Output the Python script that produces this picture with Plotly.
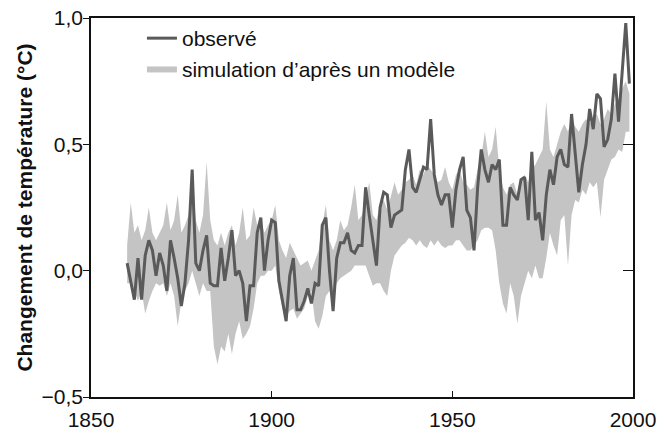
import plotly.graph_objects as go

years = list(range(1860, 2000))

observed = [
    0.03, -0.05, -0.115, 0.05, -0.115, 0.06, 0.12, 0.08, -0.02, 0.07,
    0.02, -0.08, 0.12, 0.05, -0.03, -0.14, -0.05, 0.12, 0.40, 0.03,
    0.00, 0.08, 0.14, -0.05, -0.06, -0.06, 0.09, -0.04, 0.05, 0.16,
    -0.02, 0.00, -0.05, -0.20, -0.06, -0.06, 0.15, 0.21, 0.00, 0.12,
    0.20, 0.19, -0.04, -0.12, -0.20, -0.02, 0.05, -0.155, -0.155, -0.12,
    -0.07, -0.13, -0.05, -0.06, 0.18, 0.21, 0.00, -0.16, 0.05, 0.11,
    0.11, 0.15, 0.08, 0.07, 0.10, 0.10, 0.33, 0.22, 0.12, 0.02,
    0.25, 0.31, 0.30, 0.17, 0.22, 0.23, 0.24, 0.40, 0.48, 0.33,
    0.31, 0.36, 0.41, 0.40, 0.60, 0.38, 0.30, 0.26, 0.30, 0.30,
    0.17, 0.32, 0.40, 0.45, 0.24, 0.21, 0.08, 0.33, 0.48, 0.40,
    0.35, 0.42, 0.40, 0.44, 0.18, 0.18, 0.33, 0.30, 0.28, 0.36,
    0.37, 0.20, 0.47, 0.20, 0.23, 0.12, 0.30, 0.40, 0.34, 0.45,
    0.48, 0.42, 0.41, 0.62, 0.45, 0.31, 0.42, 0.50, 0.64, 0.56,
    0.70, 0.68, 0.49, 0.52, 0.60, 0.78, 0.59, 0.80, 0.98, 0.74,
]

model_upper = [
    0.10, 0.27, 0.15, 0.18, 0.12, 0.16, 0.25, 0.15, 0.12, 0.15,
    0.18, 0.27, 0.16, 0.20, 0.30, 0.15, 0.18, 0.22, 0.35, 0.20,
    0.15, 0.22, 0.43, 0.20, 0.12, 0.10, 0.15, 0.10, 0.15, 0.18,
    0.10, 0.15, 0.25, 0.12, 0.14, 0.25, 0.18, 0.20, 0.15, 0.18,
    0.20, 0.26, 0.12, 0.08, 0.05, 0.11, 0.08, 0.05, 0.02, 0.03,
    0.04, 0.00, 0.04, 0.08, 0.18, 0.26, 0.12, 0.08, 0.12, 0.20,
    0.16, 0.18, 0.25, 0.34, 0.20, 0.22, 0.28, 0.35, 0.22, 0.20,
    0.26, 0.28, 0.24, 0.30, 0.35, 0.30, 0.32, 0.35, 0.36, 0.38,
    0.34, 0.40, 0.38, 0.42, 0.40, 0.38, 0.35, 0.36, 0.41, 0.35,
    0.32, 0.38, 0.40, 0.35, 0.34, 0.32, 0.33, 0.40, 0.45, 0.55,
    0.45, 0.48, 0.57, 0.40, 0.33, 0.30, 0.34, 0.35, 0.30, 0.35,
    0.38, 0.35, 0.40, 0.42, 0.45, 0.48, 0.67, 0.48, 0.45, 0.50,
    0.55, 0.58, 0.55, 0.60, 0.57, 0.55, 0.58, 0.60, 0.58, 0.60,
    0.62, 0.58, 0.60, 0.64, 0.62, 0.66, 0.68, 0.72, 0.75, 0.70,
]

model_lower = [
    -0.05, -0.05, -0.08, -0.12, -0.08, -0.17, -0.12, -0.08, -0.05, -0.06,
    -0.05, -0.10, -0.05, -0.10, -0.22, -0.12, -0.08, -0.05, 0.00, -0.05,
    -0.10, -0.05, -0.08, -0.08, -0.30, -0.37, -0.30, -0.32, -0.25, -0.33,
    -0.25, -0.20, -0.27, -0.25, -0.22, -0.15, -0.05, -0.02, -0.02, 0.00,
    0.00, 0.02, -0.08, -0.15, -0.18, -0.16, -0.15, -0.19, -0.17, -0.15,
    -0.10, -0.08, -0.20, -0.23, -0.18, -0.10, -0.08, -0.10, -0.05, -0.03,
    -0.02, -0.01, 0.00, 0.02, 0.02, 0.02, 0.02, -0.02, -0.06, -0.05,
    -0.05, -0.08, -0.10, 0.00, 0.06, 0.08, 0.10, 0.11, 0.13, 0.12,
    0.10, 0.12, 0.10, 0.09, 0.12, 0.10, 0.12, 0.10, 0.09, 0.10,
    0.10, 0.12, 0.12, 0.10, 0.08, 0.08, 0.10, 0.12, 0.16, 0.17,
    0.17, 0.16, 0.08, -0.05, -0.13, -0.17, -0.05, -0.10, -0.21, -0.10,
    -0.05, 0.00, -0.03, 0.02, -0.03, -0.03, 0.05, 0.15, 0.10, 0.06,
    0.20, 0.22, 0.02, 0.22, 0.28, 0.27, 0.32, 0.30, 0.35, 0.33,
    0.35, 0.21, 0.36, 0.40, 0.44, 0.45, 0.48, 0.47, 0.55, 0.55,
]

x_ticks = [1850, 1900, 1950, 2000]
y_ticks = [-0.5, 0.0, 0.5, 1.0]

FONT = "Liberation Sans, Arial, sans-serif"
BAND = "#c4c4c4"
LINE = "#5a5a5a"

fig = go.Figure()
fig.add_trace(go.Scatter(
    x=years, y=model_lower, mode="lines", line=dict(width=0, color=BAND),
    showlegend=False, hoverinfo="skip",
))
fig.add_trace(go.Scatter(
    x=years, y=model_upper, mode="lines", line=dict(width=0, color=BAND),
    fill="tonexty", fillcolor=BAND, name="simulation d’après un modèle",
    legendrank=2,
))
fig.add_trace(go.Scatter(
    x=years, y=observed, mode="lines", line=dict(width=3, color=LINE),
    name="observé", legendrank=1,
))
# invisible trace to activate right-side axis with inward ticks
fig.add_trace(go.Scatter(
    x=[years[0]], y=[observed[0]], yaxis="y2", mode="markers",
    marker=dict(opacity=0), showlegend=False, hoverinfo="skip",
))

fig.update_layout(
    width=658, height=433,
    margin=dict(l=91, r=25, t=18, b=36, autoexpand=False),
    paper_bgcolor="white", plot_bgcolor="white",
    separators=", ",
    font=dict(family=FONT, size=21, color="#111"),
    showlegend=True,
    legend=dict(
        x=0.094, y=1.0, xanchor="left", yanchor="top",
        bgcolor="rgba(0,0,0,0)", font=dict(size=21, color="#111"),
        tracegroupgap=0, itemwidth=30, traceorder="normal",
    ),
    xaxis=dict(
        range=[1850, 2000], tickvals=x_ticks, ticks="inside", ticklen=6,
        tickwidth=1.2, tickcolor="#111", showline=True, linecolor="#111",
        linewidth=1.5, mirror=True, showgrid=False, zeroline=False,
        tickfont=dict(size=21), automargin=False, ticklabelstandoff=3,
    ),
    yaxis=dict(
        range=[-0.5, 1.0], tickvals=y_ticks, tickformat=".1f",
        ticks="outside", ticklen=6, tickwidth=1.2, tickcolor="#111",
        showline=True, linecolor="#111", linewidth=1.5, mirror=True,
        showgrid=False, zeroline=False, tickfont=dict(size=21),
        automargin=False, ticklabelstandoff=-4,
        title=dict(text="<b>Changement de température (°C)</b>",
                   font=dict(size=21), standoff=3),
    ),
    yaxis2=dict(
        overlaying="y", side="right", matches="y", range=[-0.5, 1.0],
        tickvals=y_ticks, ticks="inside", ticklen=10, tickwidth=1.2,
        tickcolor="#111", showticklabels=False, showgrid=False,
        zeroline=False, showline=False, automargin=False,
    ),
)

fig.write_html("out.html")
